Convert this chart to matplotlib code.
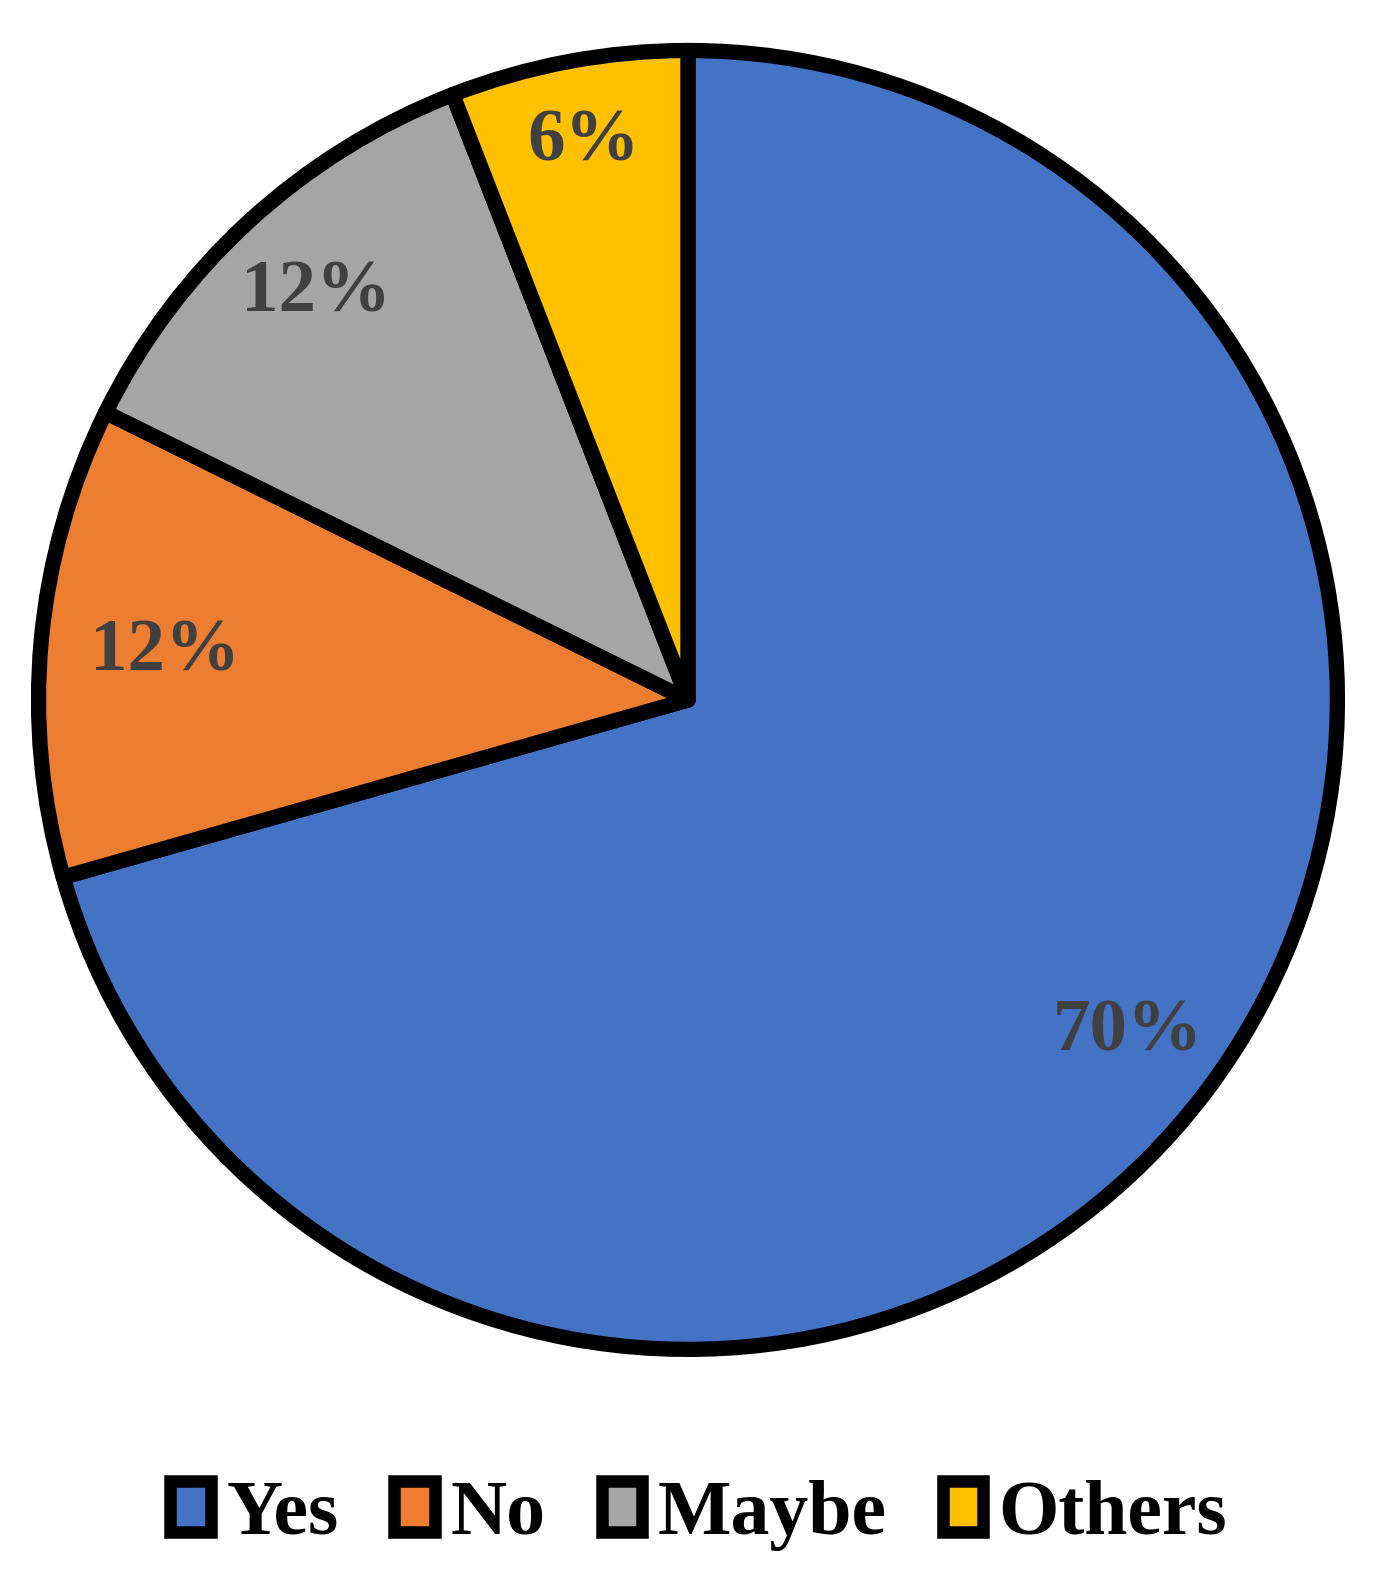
import numpy as np
import matplotlib.pyplot as plt
from matplotlib.patches import Patch

# survey answers, share of respondents
categories = ["Yes", "No", "Maybe", "Others"]
shares = [70.6, 11.7, 11.8, 5.9]
pct_labels = ["70%", "12%", "12%", "6%"]
colors = ["#4472C4", "#ED7D31", "#A5A5A5", "#FFC000"]

plt.rcParams['font.family'] = ['Liberation Serif', 'DejaVu Serif']
plt.rcParams['font.weight'] = 'bold'

fig = plt.figure(figsize=(13.78, 15.80), dpi=100)
ax = fig.add_axes([0.0232, 0.1418, 0.9521, 0.8304])

lab_iter = iter(pct_labels)
wedges, texts, autotexts = ax.pie(
    shares,
    colors=colors,
    startangle=90,
    counterclock=False,
    radius=0.99,
    autopct=lambda p: next(lab_iter),
    pctdistance=0.83,
    wedgeprops=dict(edgecolor="black", linewidth=11, joinstyle="round"),
    textprops=dict(fontsize=54, fontweight="bold", color="#404040"),
)

# nudge labels radially like the original's "best fit" placement
label_r = [0.84, 0.80, 0.84, 0.865]
for w, t, r in zip(wedges, autotexts, label_r):
    ang = np.deg2rad((w.theta1 + w.theta2) / 2)
    t.set_position((r * np.cos(ang), r * np.sin(ang)))

ax.set_xlim(-1, 1)
ax.set_ylim(-1, 1)
ax.set_aspect("equal")
ax.axis("off")

handles = [Patch(facecolor=c, edgecolor="black", linewidth=9, joinstyle="round")
           for c in colors]
fig.legend(handles, categories, loc="center", bbox_to_anchor=(0.507, 0.041),
           ncol=4, frameon=False, fontsize=56,
           handlelength=0.52, handleheight=0.62, handletextpad=0.2,
           columnspacing=0.72, borderpad=0)

fig.savefig("out.png", dpi=100)
